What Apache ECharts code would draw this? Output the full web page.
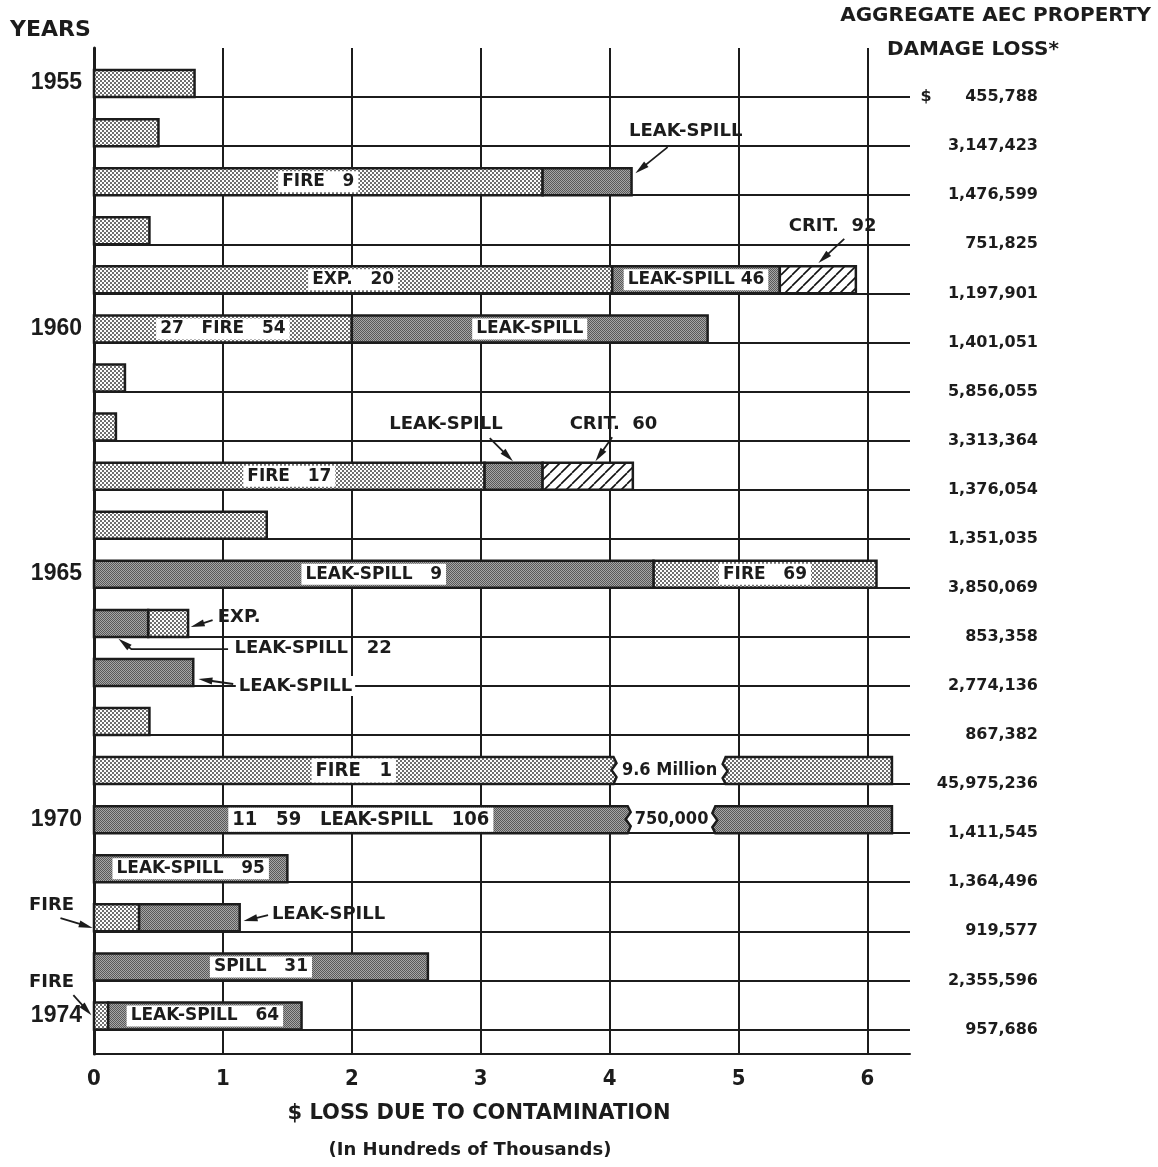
<!DOCTYPE html>
<html>
<head>
<meta charset="utf-8">
<title>AEC contamination losses 1955-1974</title>
<script src="https://cdn.jsdelivr.net/npm/echarts@6/dist/echarts.min.js"></script>
<style>
  body { margin: 0; background: #fff; }
  #chart { width: 1158px; height: 1167px; }
</style>
</head>
<body>
<div id="chart"></div>
<script>
// rows run from 1955 (row 0, top) to 1974 (row 19)
var years = [1955, 1956, 1957, 1958, 1959, 1960, 1961, 1962, 1963, 1964,
             1965, 1966, 1967, 1968, 1969, 1970, 1971, 1972, 1973, 1974];
var labeledYears = [1955, 1960, 1965, 1970, 1974];
var damageLoss = ['$      455,788', '3,147,423', '1,476,599', '751,825', '1,197,901',
                  '1,401,051', '5,856,055', '3,313,364', '1,376,054', '1,351,035',
                  '3,850,069', '853,358', '2,774,136', '867,382', '45,975,236',
                  '1,411,545', '1,364,496', '919,577', '2,355,596', '957,686'];

// bar pieces: [row, from, to, label]  (hundreds of thousands of $)
var fireExp = [
  [0, 0, 0.78, ''],
  [1, 0, 0.50, ''],
  [2, 0, 3.48, 'FIRE   9'],
  [3, 0, 0.43, ''],
  [4, 0, 4.02, 'EXP.   20'],
  [5, 0, 2.00, '27   FIRE   54'],
  [6, 0, 0.24, ''],
  [7, 0, 0.17, ''],
  [8, 0, 3.03, 'FIRE   17'],
  [9, 0, 1.34, ''],
  [10, 4.34, 6.07, 'FIRE   69'],
  [11, 0.42, 0.73, ''],
  [13, 0, 0.43, ''],
  [14, 0, 4.03, 'FIRE   1'],
  [14, 4.90, 6.19, ''],
  [17, 0, 0.35, ''],
  [19, 0, 0.11, '']
];
var leakSpill = [
  [2, 3.48, 4.17, ''],
  [4, 4.02, 5.32, 'LEAK-SPILL 46'],
  [5, 2.00, 4.76, 'LEAK-SPILL'],
  [8, 3.03, 3.48, ''],
  [10, 0, 4.34, 'LEAK-SPILL   9'],
  [11, 0, 0.42, ''],
  [12, 0, 0.77, ''],
  [15, 0, 4.14, '11   59   LEAK-SPILL   106'],
  [15, 4.82, 6.19, ''],
  [16, 0, 1.50, 'LEAK-SPILL   95'],
  [17, 0.35, 1.13, ''],
  [18, 0, 2.59, 'SPILL   31'],
  [19, 0.11, 1.61, 'LEAK-SPILL   64']
];
var crit = [
  [4, 5.32, 5.91, ''],
  [8, 3.48, 4.18, '']
];
// bars cut off-scale: [row, cut from, cut to, real value]
var breaks = [
  [14, 4.03, 4.90, '9.6 Million'],
  [15, 4.14, 4.82, '750,000']
];

// callouts, placed in axis units (x, row)
var notes = [
  { text: 'LEAK-SPILL', at: [4.59, 0.69], path: [[4.45, 1.02], [4.20, 1.55]] },
  { text: 'CRIT.  92', at: [5.73, 2.63], path: [[5.82, 2.89], [5.62, 3.38]] },
  { text: 'LEAK-SPILL', at: [2.73, 6.66], path: [[3.07, 6.95], [3.25, 7.42]] },
  { text: 'CRIT.  60', at: [4.03, 6.66], path: [[4.02, 6.93], [3.89, 7.42]] },
  { text: 'EXP.', at: [0.96, 10.6], align: 'left', path: [[0.92, 10.66], [0.75, 10.80]] },
  { text: 'LEAK-SPILL   22', at: [1.09, 11.23], align: 'left', path: [[1.04, 11.25], [0.29, 11.25], [0.19, 11.04]] },
  { text: 'LEAK-SPILL', at: [1.10, 12.0], align: 'left', box: true, path: [[1.08, 11.96], [0.81, 11.86]] },
  { text: 'FIRE', at: [-0.33, 16.48], path: [[-0.26, 16.73], [-0.01, 16.93]] },
  { text: 'LEAK-SPILL', at: [1.38, 16.65], align: 'left', path: [[1.35, 16.67], [1.16, 16.79]] },
  { text: 'FIRE', at: [-0.33, 18.03], path: [[-0.16, 18.30], [-0.02, 18.71]] }
];

var INK = '#1c1c1c';
var BAR_H = 27;
var NARROW = '"Liberation Sans Narrow", "DejaVu Sans Condensed", "Roboto Condensed", "Liberation Sans", sans-serif';
var LABEL_FONT = 'bold 17px "DejaVu Sans"';
var NOTE_FONT = 'bold 18px "DejaVu Sans"';
var NARROW_FONT = 'bold 20px ' + NARROW;
var GAP_FONT = 'bold 18px ' + NARROW;
var condensedRows = [14, 15];

function tile(size, draw) {
  var c = document.createElement('canvas');
  c.width = c.height = size;
  var g = c.getContext('2d');
  g.fillStyle = '#fff';
  g.fillRect(0, 0, size, size);
  draw(g);
  return { image: c, repeat: 'repeat' };
}

var dotted = tile(4, function (g) {
  g.fillStyle = '#333';
  [[1, 1], [3, 3]].forEach(function (p) {
    g.beginPath();
    g.arc(p[0], p[1], 0.95, 0, Math.PI * 2);
    g.fill();
  });
});
var shaded = tile(2, function (g) {
  g.fillStyle = '#a6a6a6';
  g.fillRect(0, 0, 2, 2);
  g.fillStyle = '#595959';
  g.fillRect(0, 0, 1, 1);
  g.fillRect(1, 1, 1, 1);
});
var hatched = tile(11, function (g) {
  g.strokeStyle = '#111';
  g.lineWidth = 1.6;
  [-11, 0, 11].forEach(function (k) {
    g.beginPath();
    g.moveTo(k, 11);
    g.lineTo(k + 11, 0);
    g.stroke();
  });
});

function isCut(row, x, side) {
  return breaks.some(function (b) { return b[0] === row && b[side] === x; });
}

function segmentSeries(name, list, fill) {
  return {
    name: name,
    type: 'custom',
    silent: true,
    data: list.map(function (d) { return [d[0], d[1], d[2]]; }),
    encode: { x: [1, 2], y: 0 },
    renderItem: function (params, api) {
      var d = list[params.dataIndex];
      var a = api.coord([d[1], d[0]]);
      var b = api.coord([d[2], d[0]]);
      var x0 = a[0], x1 = b[0], y1 = a[1], y0 = y1 - BAR_H;
      var pts = [[x0, y0], [x1, y0]];
      if (isCut(d[0], d[2], 1)) pts.push([x1 + 3, y0 + 6], [x1 - 2, y0 + 13], [x1 + 3, y0 + 20]);
      pts.push([x1, y1], [x0, y1]);
      if (isCut(d[0], d[1], 2)) pts.push([x0 - 3, y1 - 6], [x0 + 2, y1 - 13], [x0 - 3, y1 - 20]);
      var children = [{
        type: 'polygon',
        shape: { points: pts },
        style: { fill: fill, stroke: INK, lineWidth: 2.5 }
      }];
      if (d[3]) {
        children.push({
          type: 'text',
          x: (x0 + x1) / 2,
          y: (y0 + y1) / 2,
          style: {
            text: d[3],
            font: condensedRows.indexOf(d[0]) >= 0 ? NARROW_FONT : LABEL_FONT,
            fill: INK,
            align: 'center', textAlign: 'center',
            verticalAlign: 'middle', textVerticalAlign: 'middle',
            backgroundColor: '#fff',
            padding: [2, 4]
          }
        });
      }
      return { type: 'group', children: children };
    }
  };
}

var breakSeries = {
  type: 'custom',
  silent: true,
  data: breaks.map(function (b) { return [b[0], b[1], b[2]]; }),
  encode: { x: [1, 2], y: 0 },
  renderItem: function (params, api) {
    var b = breaks[params.dataIndex];
    var a = api.coord([b[1], b[0]]);
    var c = api.coord([b[2], b[0]]);
    return {
      type: 'text',
      x: (a[0] + c[0]) / 2,
      y: a[1] - BAR_H / 2,
      style: {
        text: b[3], font: GAP_FONT, fill: INK,
        align: 'center', textAlign: 'center',
        verticalAlign: 'middle', textVerticalAlign: 'middle'
      }
    };
  }
};

var noteSeries = {
  type: 'custom',
  silent: true,
  data: notes.map(function (n) { return n.at; }),
  encode: { x: 0, y: 1 },
  renderItem: function (params, api) {
    var n = notes[params.dataIndex];
    var t = api.coord(n.at);
    var pts = n.path.map(function (p) { return api.coord(p); });
    var tip = pts[pts.length - 1], prev = pts[pts.length - 2];
    var dx = tip[0] - prev[0], dy = tip[1] - prev[1];
    var len = Math.sqrt(dx * dx + dy * dy);
    dx /= len; dy /= len;
    var L = 14, W = 3.5;
    var head = [
      tip,
      [tip[0] - dx * L - dy * W, tip[1] - dy * L + dx * W],
      [tip[0] - dx * L + dy * W, tip[1] - dy * L - dx * W]
    ];
    var line = pts.slice(0, -1).concat([[tip[0] - dx * L * 0.6, tip[1] - dy * L * 0.6]]);
    var align = n.align || 'center';
    return {
      type: 'group',
      children: [
        { type: 'polyline', shape: { points: line }, style: { stroke: INK, lineWidth: 1.8, fill: null } },
        { type: 'polygon', shape: { points: head }, style: { fill: INK } },
        {
          type: 'text', x: t[0], y: t[1],
          style: {
            text: n.text, font: NOTE_FONT, fill: INK,
            align: align, textAlign: align,
            verticalAlign: 'middle', textVerticalAlign: 'middle',
            backgroundColor: n.box ? '#fff' : null,
            padding: n.box ? [1, 3] : 0
          }
        }
      ]
    };
  }
};

var chart = echarts.init(document.getElementById('chart'));
chart.setOption({
  animation: false,
  backgroundColor: '#fff',
  grid: { left: 94, right: 248, top: 48, bottom: 113, outerBoundsMode: 'none' },
  xAxis: {
    type: 'value',
    min: 0,
    max: 6.33,
    interval: 1,
    axisLine: { show: true, onZero: false, lineStyle: { color: INK, width: 2 } },
    axisTick: { show: false },
    axisLabel: {
      margin: 14,
      color: INK,
      fontFamily: NARROW,
      fontWeight: 'bold',
      fontSize: 22,
      formatter: function (v) { return Number.isInteger(v) ? String(v) : ''; }
    },
    splitLine: { show: true, showMinLine: true, showMaxLine: false, lineStyle: { color: INK, width: 2 } }
  },
  yAxis: [{
    type: 'value',
    inverse: true,
    min: -1,
    max: 19.5,
    interval: 1,
    axisLine: { show: true, onZero: false, lineStyle: { color: INK, width: 3 } },
    axisTick: { show: false },
    axisLabel: {
      margin: 12,
      color: INK,
      fontFamily: 'Liberation Sans',
      fontWeight: 'bold',
      fontSize: 23,
      verticalAlign: 'bottom',
      lineHeight: 28,
      formatter: function (v) {
        var y = years[v];
        return labeledYears.indexOf(y) >= 0 ? String(y) : '';
      }
    },
    splitLine: { show: true, showMinLine: false, showMaxLine: false, lineStyle: { color: INK, width: 2 } }
  }, {
    type: 'value',
    position: 'right',
    inverse: true,
    min: -1,
    max: 19.5,
    interval: 1,
    axisLine: { show: false },
    axisTick: { show: false },
    splitLine: { show: false },
    axisLabel: {
      margin: 128,
      align: 'right',
      color: INK,
      fontFamily: 'DejaVu Sans',
      fontWeight: 'bold',
      fontSize: 16,
      formatter: function (v) { return damageLoss[v] || ''; }
    }
  }],
  graphic: [
    { type: 'text', left: 10, top: 19, style: { text: 'YEARS', font: 'bold 22px "DejaVu Sans"', fill: INK } },
    { type: 'text', right: 7, top: 6, style: { text: 'AGGREGATE AEC PROPERTY', font: 'bold 20px "DejaVu Sans"', fill: INK } },
    { type: 'text', left: 887, top: 40, style: { text: 'DAMAGE LOSS*', font: 'bold 20px "DejaVu Sans"', fill: INK } },
    {
      type: 'text', x: 479, y: 1114,
      style: { text: '$ LOSS DUE TO CONTAMINATION', font: 'bold 21px "DejaVu Sans"', fill: INK,
               align: 'center', textAlign: 'center', verticalAlign: 'middle', textVerticalAlign: 'middle' }
    },
    {
      type: 'text', x: 470, y: 1150,
      style: { text: '(In Hundreds of Thousands)', font: 'bold 18px "DejaVu Sans"', fill: INK,
               align: 'center', textAlign: 'center', verticalAlign: 'middle', textVerticalAlign: 'middle' }
    }
  ],
  series: [
    segmentSeries('Fire / explosion', fireExp, dotted),
    segmentSeries('Leak-spill', leakSpill, shaded),
    segmentSeries('Criticality', crit, hatched),
    breakSeries,
    noteSeries
  ]
});
</script>
</body>
</html>
